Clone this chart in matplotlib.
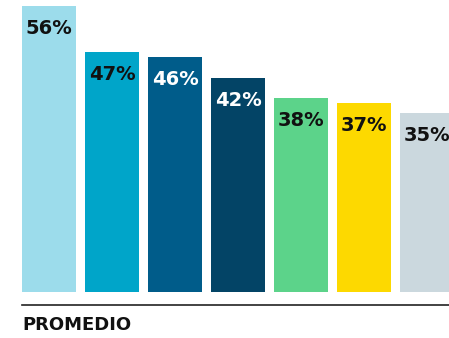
import matplotlib
matplotlib.use("Agg")
import matplotlib.pyplot as plt
from matplotlib.lines import Line2D

values = [56, 47, 46, 42, 38, 37, 35]
labels = ["56%", "47%", "46%", "42%", "38%", "37%", "35%"]
colors = ["#9CDCEB", "#00A5C9", "#005C8A", "#034466", "#5CD38A", "#FDD900", "#CBD8DE"]
label_colors = ["#111111", "#111111", "#FFFFFF", "#FFFFFF", "#111111", "#111111", "#111111"]
footer = "PROMEDIO"

W, H = 449, 338
fig = plt.figure(figsize=(W / 100, H / 100), dpi=100)
fig.patch.set_facecolor("white")

px_per_unit = 286 / 56.0
step = 63.0
left_px, bottom_px = 22, 292
ax = fig.add_axes([left_px / W, (H - bottom_px) / H, 1 - left_px / W, bottom_px / H])
x = list(range(len(values)))
ax.bar(x, values, width=54 / step, color=colors, align="center")
ax.set_xlim(-27 / step, -27 / step + (W - left_px) / step)
ax.set_ylim(0, bottom_px / px_per_unit)
ax.axis("off")

for xi, v, lab, lc in zip(x, values, labels, label_colors):
    ax.annotate(lab, (xi, v), xytext=(0, -22.5 * 72 / 100), textcoords="offset points",
                ha="center", va="center", fontsize=14, fontweight="bold",
                family="DejaVu Sans", color=lc)

fig.add_artist(Line2D([left_px / W, 1], [(H - 305) / H, (H - 305) / H],
                      transform=fig.transFigure, color="#222222", linewidth=1.2))
fig.text(left_px / W, (H - 325) / H, footer, ha="left", va="center", fontsize=13,
         fontweight="bold", family="DejaVu Sans", color="#111111")

fig.savefig("out.png", dpi=100)
